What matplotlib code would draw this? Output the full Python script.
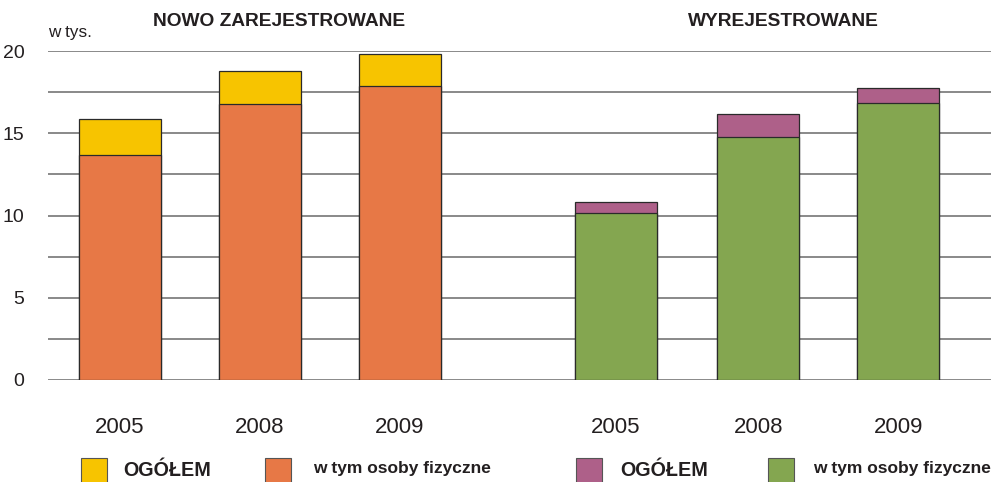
import matplotlib
matplotlib.use("Agg")
import matplotlib.pyplot as plt
from matplotlib.patches import Rectangle

plt.rcParams['font.family'] = ['Liberation Sans', 'DejaVu Sans']

years = ["2005", "2008", "2009"]
groups = ["NOWO ZAREJESTROWANE", "WYREJESTROWANE"]
# totals (OGÓŁEM) and natural persons (w tym osoby fizyczne), thousands
nowo_total = [15.85, 18.8, 19.8]
nowo_fiz = [13.65, 16.8, 17.85]
wyrej_total = [10.85, 16.2, 17.75]
wyrej_fiz = [10.15, 14.8, 16.85]
legend_labels = ["OGÓŁEM", "w tym osoby fizyczne", "OGÓŁEM", "w tym osoby fizyczne"]

c_yellow = "#F7C400"
c_orange = "#E77846"
c_purple = "#AE6089"
c_green = "#84A650"
edge = "#2a2a2a"
txt = "#231f20"

fig = plt.figure(figsize=(9.91, 4.82), dpi=100)
ax = fig.add_axes([48/991, 1-380/482, 1-48/991, (380-51)/482])

xl = [0, 1, 2]
xr = [3.54, 4.56, 5.56]
w = 0.585

ax.bar(xl, nowo_total, width=w, color=c_yellow, edgecolor=edge, linewidth=0.9, zorder=3)
ax.bar(xl, nowo_fiz, width=w, color=c_orange, edgecolor=edge, linewidth=0.9, zorder=4)
ax.bar(xr, wyrej_total, width=w, color=c_purple, edgecolor=edge, linewidth=0.9, zorder=3)
ax.bar(xr, wyrej_fiz, width=w, color=c_green, edgecolor=edge, linewidth=0.9, zorder=4)

ax.set_xlim(-0.514, 6.221)
ax.set_ylim(0, 20)
for s in ax.spines.values():
    s.set_visible(False)
for yv in [i * 2.5 for i in range(9)]:
    ax.axhline(yv, color="#808080", linewidth=1.3, zorder=1)
ax.set_yticks([0, 5, 10, 15, 20])
ax.set_yticklabels(["0", "5", "10", "15", "20"], fontsize=14, color=txt)
ax.tick_params(axis='y', length=0, pad=17)
ax.set_xticks(xl + xr)
ax.set_xticklabels(years + years, fontsize=16, color=txt)
ax.tick_params(axis='x', length=0, pad=34)
for lab in ax.get_xticklabels():
    lab.set_va('center')

fig.text(48/991, 1-32/482, "w tys.", fontsize=12.3, color=txt, va='center', ha='left')
fig.text(279/991, 1-22/482, groups[0], fontsize=13.8, fontweight='bold', color=txt, ha='center', va='center')
fig.text(783/991, 1-22/482, groups[1], fontsize=13.8, fontweight='bold', color=txt, ha='center', va='center')

# legend
patch_x = [81, 265, 576, 768]
cols = [c_yellow, c_orange, c_purple, c_green]
text_x = [123, 313, 620, 813]
for i in range(4):
    r = Rectangle((patch_x[i]/991, -0.02), 26/991, (0.02 + 1 - 458/482), transform=fig.transFigure,
                  facecolor=cols[i], edgecolor="#555555", linewidth=0.8, clip_on=False)
    fig.patches.append(r)
    if i % 2 == 0:
        fig.text(text_x[i]/991, 1-471/482, legend_labels[i], fontsize=14.2, fontweight='bold',
                 color=txt, ha='left', va='center')
    else:
        fig.text(text_x[i]/991, 1-468/482, legend_labels[i], fontsize=12.5, fontweight='bold',
                 color=txt, ha='left', va='center')

fig.savefig("out.png", dpi=100)
